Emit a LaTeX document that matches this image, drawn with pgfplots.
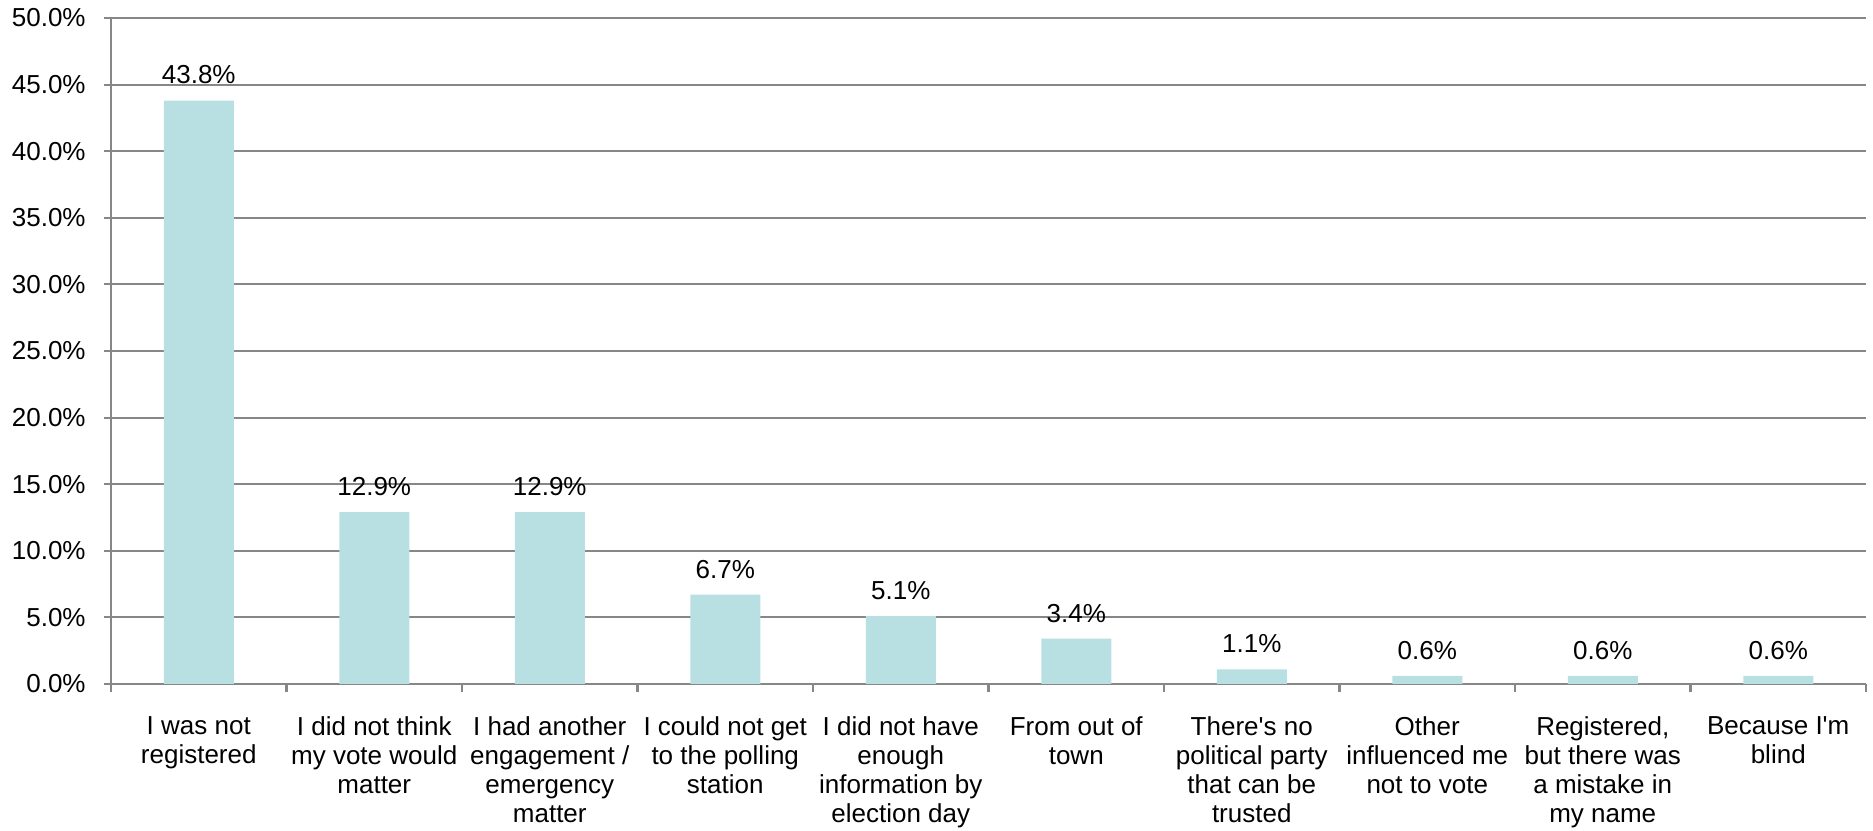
\documentclass[border=0pt]{standalone}
\usepackage{fontspec}
\setmainfont{Liberation Sans}
\usepackage{pgfplots}
\pgfplotsset{compat=1.18}
\definecolor{barc}{HTML}{B8DFE2}
\definecolor{gridc}{HTML}{878787}
\begin{document}
\fontsize{7.4}{8.25}\selectfont
\begin{tikzpicture}
\begin{axis}[
  name=ax,
  scale only axis,
  width=17.55cm, height=6.66cm,
  xmin=-0.5, xmax=9.5,
  ymin=0, ymax=50,
  axis x line*=bottom, axis y line*=left,
  axis line style={gridc, line width=0.6pt},
  ytick={0,5,...,50},
  ymajorgrids,
  grid style={gridc, line width=0.6pt},
  yticklabel={\pgfmathprintnumber[fixed,fixed zerofill,precision=1]{\tick}\%},
  /pgf/number format/assume math mode=true,
  yticklabel style={font=\fontsize{7.4}{8.25}\selectfont, xshift=-0.09cm},
  tick align=outside,
  major tick length=0.07cm,
  ytick style={gridc, line width=0.6pt},
  xtick={0,...,9},
  major x tick style={draw=none},
  minor xtick={-0.5,0.5,...,9.5},
  minor x tick style={gridc, line width=0.6pt},
  minor tick length=0.08cm,
  xticklabels={{I was not\\registered},{I did not think\\my vote would\\matter},{I had another\\engagement /\\emergency\\matter},{I could not get\\to the polling\\station},{I did not have\\enough\\information by\\election day},{From out of\\town},{There\textquotesingle s no\\political party\\that can be\\trusted},{Other\\influenced me\\not to vote},{Registered,\\but there was\\a mistake in\\my name},{Because I\textquotesingle m\\blind}},
  xticklabel style={font=\fontsize{7.4}{8.25}\selectfont, align=center, anchor=north, yshift=-0.16cm},
  ybar, bar width=0.70cm,
  nodes near coords={\pgfmathprintnumber[fixed,fixed zerofill,precision=1]{\pgfplotspointmeta}\%},
  nodes near coords style={font=\fontsize{7.4}{8.25}\selectfont, anchor=south, yshift=0.07cm},
  clip=false,
]
\addplot[fill=barc, draw=none] coordinates {
(0,43.8) (1,12.9) (2,12.9) (3,6.7) (4,5.1) (5,3.4) (6,1.1) (7,0.6) (8,0.6) (9,0.6)};
\end{axis}
\pgfresetboundingbox
\path[use as bounding box] ([xshift=-1.11cm,yshift=-1.47cm]ax.south west) rectangle ([xshift=0.07cm,yshift=0.18cm]ax.north east);
\end{tikzpicture}
\end{document}
